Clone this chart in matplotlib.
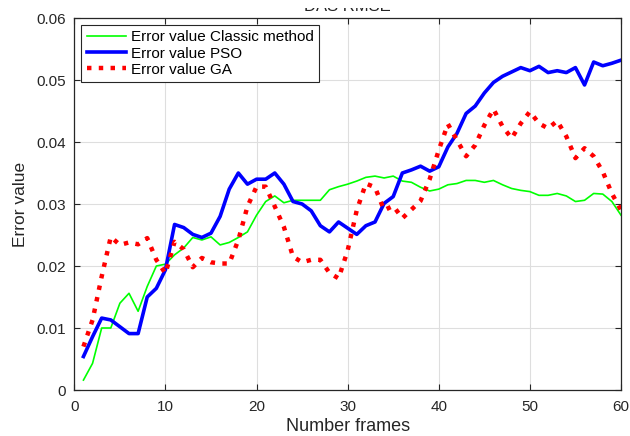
import matplotlib
matplotlib.use('Agg')
import matplotlib.pyplot as plt
from matplotlib.patches import Rectangle

plt.rcParams['font.family'] = ['Liberation Sans', 'DejaVu Sans']

frames = list(range(1, 61))

# Error value, classic method (green)
classic = [0.0016, 0.0043, 0.0100, 0.0100, 0.0140, 0.0156, 0.0127, 0.0167, 0.0200, 0.0203,
           0.0218, 0.0229, 0.0246, 0.0242, 0.0247, 0.0234, 0.0238, 0.0246, 0.0255, 0.0282,
           0.0304, 0.0313, 0.0302, 0.0306, 0.0306, 0.0306, 0.0306, 0.0323, 0.0328, 0.0332,
           0.0337, 0.0343, 0.0345, 0.0342, 0.0345, 0.0337, 0.0335, 0.0327, 0.0321, 0.0324,
           0.0331, 0.0333, 0.0338, 0.0338, 0.0335, 0.0338, 0.0331, 0.0325, 0.0322, 0.0320,
           0.0314, 0.0314, 0.0317, 0.0313, 0.0304, 0.0306, 0.0317, 0.0316, 0.0304, 0.0282]

# Error value, PSO (blue)
pso = [0.0054, 0.0086, 0.0116, 0.0113, 0.0102, 0.0091, 0.0091, 0.0150, 0.0164, 0.0194,
       0.0267, 0.0262, 0.0251, 0.0246, 0.0253, 0.0280, 0.0324, 0.0350, 0.0332, 0.0340,
       0.0340, 0.0350, 0.0332, 0.0304, 0.0300, 0.0289, 0.0265, 0.0255, 0.0271, 0.0261,
       0.0251, 0.0265, 0.0271, 0.0301, 0.0312, 0.0350, 0.0355, 0.0361, 0.0353, 0.0360,
       0.0392, 0.0414, 0.0446, 0.0458, 0.0479, 0.0496, 0.0506, 0.0513, 0.0520, 0.0515,
       0.0522, 0.0512, 0.0515, 0.0512, 0.0520, 0.0492, 0.0529, 0.0523, 0.0527, 0.0532]

# Error value, GA (red dotted)
ga = [0.0070, 0.0113, 0.0183, 0.0247, 0.0234, 0.0238, 0.0235, 0.0245, 0.0210, 0.0188,
      0.0239, 0.0227, 0.0198, 0.0213, 0.0206, 0.0204, 0.0204, 0.0242, 0.0296, 0.0328,
      0.0328, 0.0296, 0.0263, 0.0215, 0.0206, 0.0210, 0.0210, 0.0189, 0.0180, 0.0225,
      0.0290, 0.0333, 0.0327, 0.0290, 0.0297, 0.0277, 0.0291, 0.0305, 0.0340, 0.0387,
      0.0429, 0.0403, 0.0377, 0.0395, 0.0427, 0.0453, 0.0425, 0.0406, 0.0430, 0.0449,
      0.0430, 0.0422, 0.0434, 0.0409, 0.0374, 0.0390, 0.0377, 0.0352, 0.0317, 0.0290]

fig = plt.figure(figsize=(6.3, 4.36), dpi=100)
ax = fig.add_axes([0.118, 0.1055, 0.8677, 0.8532])

ax.plot(frames, classic, color='#00ff00', linewidth=1.2, label='Error value Classic method')
ax.plot(frames, pso, color='#0000ff', linewidth=2.6, label='Error value PSO')
ax.plot(frames, ga, color='#ff0000', linewidth=3.2, linestyle=':', label='Error value GA')

ax.set_xlim(0, 60)
ax.set_ylim(0, 0.06)
ax.set_xticks([0, 10, 20, 30, 40, 50, 60])
ax.set_yticks([0, 0.01, 0.02, 0.03, 0.04, 0.05, 0.06])
ax.set_yticklabels(['0', '0.01', '0.02', '0.03', '0.04', '0.05', '0.06'])
ax.grid(True, color='#dedede', linewidth=0.8)
ax.set_axisbelow(True)
ax.tick_params(direction='in', top=True, right=True, length=4, labelsize=11,
               colors='#262626')
ax.tick_params(axis='x', pad=7)
ax.tick_params(axis='y', pad=6)
for s in ax.spines.values():
    s.set_color('#262626')
    s.set_linewidth(0.9)

ax.set_xlabel('Number frames', fontsize=13, color='#262626', labelpad=3)
ax.set_ylabel('Error value', fontsize=12.5, color='#262626', labelpad=6)
ax.set_title('DAS RMSE', fontsize=12, color='#262626', pad=5.4)

leg = ax.legend(loc='upper left', fontsize=11, fancybox=False, framealpha=1,
                edgecolor='#262626', borderaxespad=0.45, handlelength=2.6,
                handletextpad=0.3, labelspacing=0.15, borderpad=0.35)
leg.get_frame().set_linewidth(0.8)

# the top strip of the original picture is cut off, only the foot of the title shows
fig.patches.append(Rectangle((0, 1 - 8 / 436), 1, 8 / 436, transform=fig.transFigure,
                             facecolor='white', edgecolor='none', zorder=10))

fig.savefig('out.png', dpi=100)
